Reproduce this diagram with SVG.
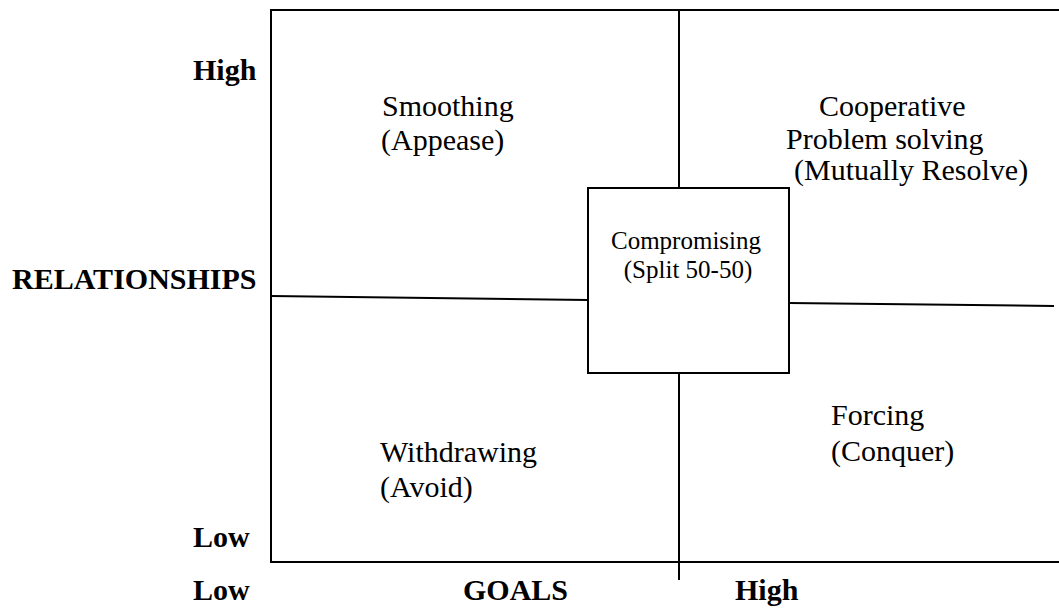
<svg xmlns="http://www.w3.org/2000/svg" width="1059" height="608" viewBox="0 0 1059 608">
<style>
.ln{stroke:#000;stroke-width:2;fill:none}
.t{font-family:"Liberation Serif","Times New Roman",serif;font-size:30px;fill:#000}
.b{font-family:"Liberation Serif","Times New Roman",serif;font-size:30px;font-weight:bold;fill:#000}
.s{font-family:"Liberation Serif","Times New Roman",serif;font-size:25px;fill:#000}
</style>
<rect width="1059" height="608" fill="#fff"/>
<g id="connectors">
<path class="ln" d="M1059,10 H271 V562 H1059"/>
<line class="ln" x1="679" y1="10" x2="679" y2="188"/>
<line class="ln" x1="679" y1="373" x2="679" y2="580"/>
<line class="ln" x1="271" y1="296" x2="588" y2="300"/>
<line class="ln" x1="789" y1="303" x2="1054" y2="306"/>
</g>
<g id="axis-labels">
<text class="b" x="193" y="80">High</text>
<text class="b" x="12" y="289">RELATIONSHIPS</text>
<text class="b" x="193" y="547">Low</text>
<text class="b" x="193" y="600">Low</text>
<text class="b" x="463" y="600">GOALS</text>
<text class="b" x="735" y="600">High</text>
</g>
<g id="smoothing">
<text class="t" x="382" y="116">Smoothing</text>
<text class="t" x="381" y="150">(Appease)</text>
</g>
<g id="cooperative">
<text class="t" x="819" y="116">Cooperative</text>
<text class="t" x="786" y="149">Problem solving</text>
<text class="t" x="794" y="180">(Mutually Resolve)</text>
</g>
<g id="compromising">
<rect class="ln" x="588" y="188" width="201" height="185" fill="#fff"/>
<text class="s" x="686" y="249" text-anchor="middle">Compromising</text>
<text class="s" x="688" y="278" text-anchor="middle">(Split 50-50)</text>
</g>
<g id="withdrawing">
<text class="t" x="380" y="462">Withdrawing</text>
<text class="t" x="380" y="497">(Avoid)</text>
</g>
<g id="forcing">
<text class="t" x="831" y="425">Forcing</text>
<text class="t" x="831" y="461">(Conquer)</text>
</g>
</svg>
